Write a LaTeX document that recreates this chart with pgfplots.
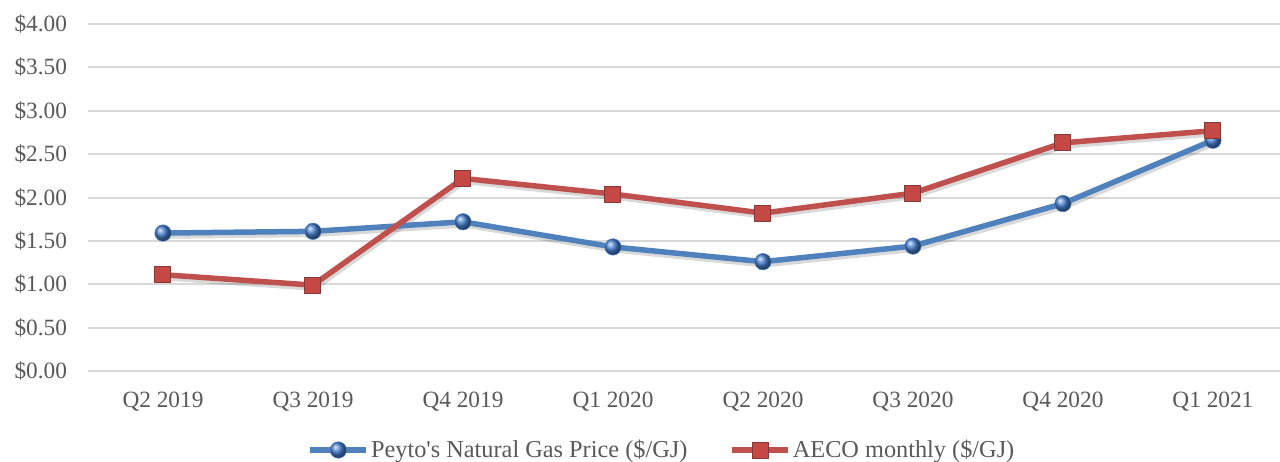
\documentclass[border=0pt]{standalone}
\usepackage{pgfplots}
\pgfplotsset{compat=1.18}
\usepackage{fontspec}
\setmainfont{Liberation Serif}
\definecolor{cblue}{HTML}{4F81BD}
\definecolor{cred}{HTML}{C0504D}
\definecolor{ballc}{RGB}{70,128,210}
\definecolor{tickc}{HTML}{595959}
\definecolor{gridc}{HTML}{D9D9D9}
\begin{document}
\begin{tikzpicture}
\useasboundingbox (0,0) rectangle (640bp,231bp);
\begin{axis}[
  at={(44bp,45.5bp)}, anchor=south west,
  scale only axis, width=596bp, height=173.5bp,
  xmin=-0.5, xmax=7.447, ymin=0, ymax=4,
  xtick={0,...,7},
  xticklabels={Q2 2019,Q3 2019,Q4 2019,Q1 2020,Q2 2020,Q3 2020,Q4 2020,Q1 2021},
  ytick={0,0.5,...,4},
  yticklabel={\$\pgfmathprintnumber[fixed,fixed zerofill,precision=2]{\tick}},
  /pgf/number format/assume math mode=true,
  axis line style={draw=none},
  major tick length=0pt,
  ymajorgrids=true, xmajorgrids=false,
  major grid style={draw=gridc, line width=1bp},
  tick label style={font=\fontsize{11.7}{14}\selectfont, text=tickc},
  yticklabel style={xshift=-7bp},
  xticklabel style={yshift=-7bp},
  legend style={draw=none, at={(0.4815,-0.2277)}, anchor=center,
    font=\fontsize{12.2}{14}\selectfont, text=tickc, legend columns=2,
    /tikz/every even column/.append style={column sep=20bp},
    nodes={inner xsep=1bp},
    inner sep=0pt, row sep=0pt},
  legend image code/.code={\draw[mark repeat=2,mark phase=2,#1] plot coordinates {(0bp,0bp)(14bp,0bp)(28bp,0bp)};},
  clip=false,
]
\addplot[forget plot, black, opacity=0.15, line width=2.75bp, line join=round, xshift=0.8bp, yshift=-1.5bp]
coordinates {(0,1.59)(1,1.61)(2,1.72)(3,1.43)(4,1.26)(5,1.44)(6,1.93)(7,2.66)};
\addplot[forget plot, black, opacity=0.15, line width=2.75bp, line join=round, xshift=0.8bp, yshift=-1.5bp]
coordinates {(0,1.11)(1,0.99)(2,2.22)(3,2.04)(4,1.82)(5,2.05)(6,2.63)(7,2.77)};
\addplot[cblue, line width=2.75bp, line join=round, mark=ball, mark size=4.1bp, mark options={ball color=ballc, line width=0.3bp}]
coordinates {(0,1.59)(1,1.61)(2,1.72)(3,1.43)(4,1.26)(5,1.44)(6,1.93)(7,2.66)};
\addlegendentry{Peyto\textquotesingle s Natural Gas Price (\$/GJ)}
\addplot[cred, line width=2.75bp, line join=round, mark=square*, mark size=4bp, mark options={fill=cred!90!red, draw=cred!70!black, line width=0.5bp}]
coordinates {(0,1.11)(1,0.99)(2,2.22)(3,2.04)(4,1.82)(5,2.05)(6,2.63)(7,2.77)};
\addlegendentry{AECO monthly (\$/GJ)}
\end{axis}
\end{tikzpicture}
\end{document}
